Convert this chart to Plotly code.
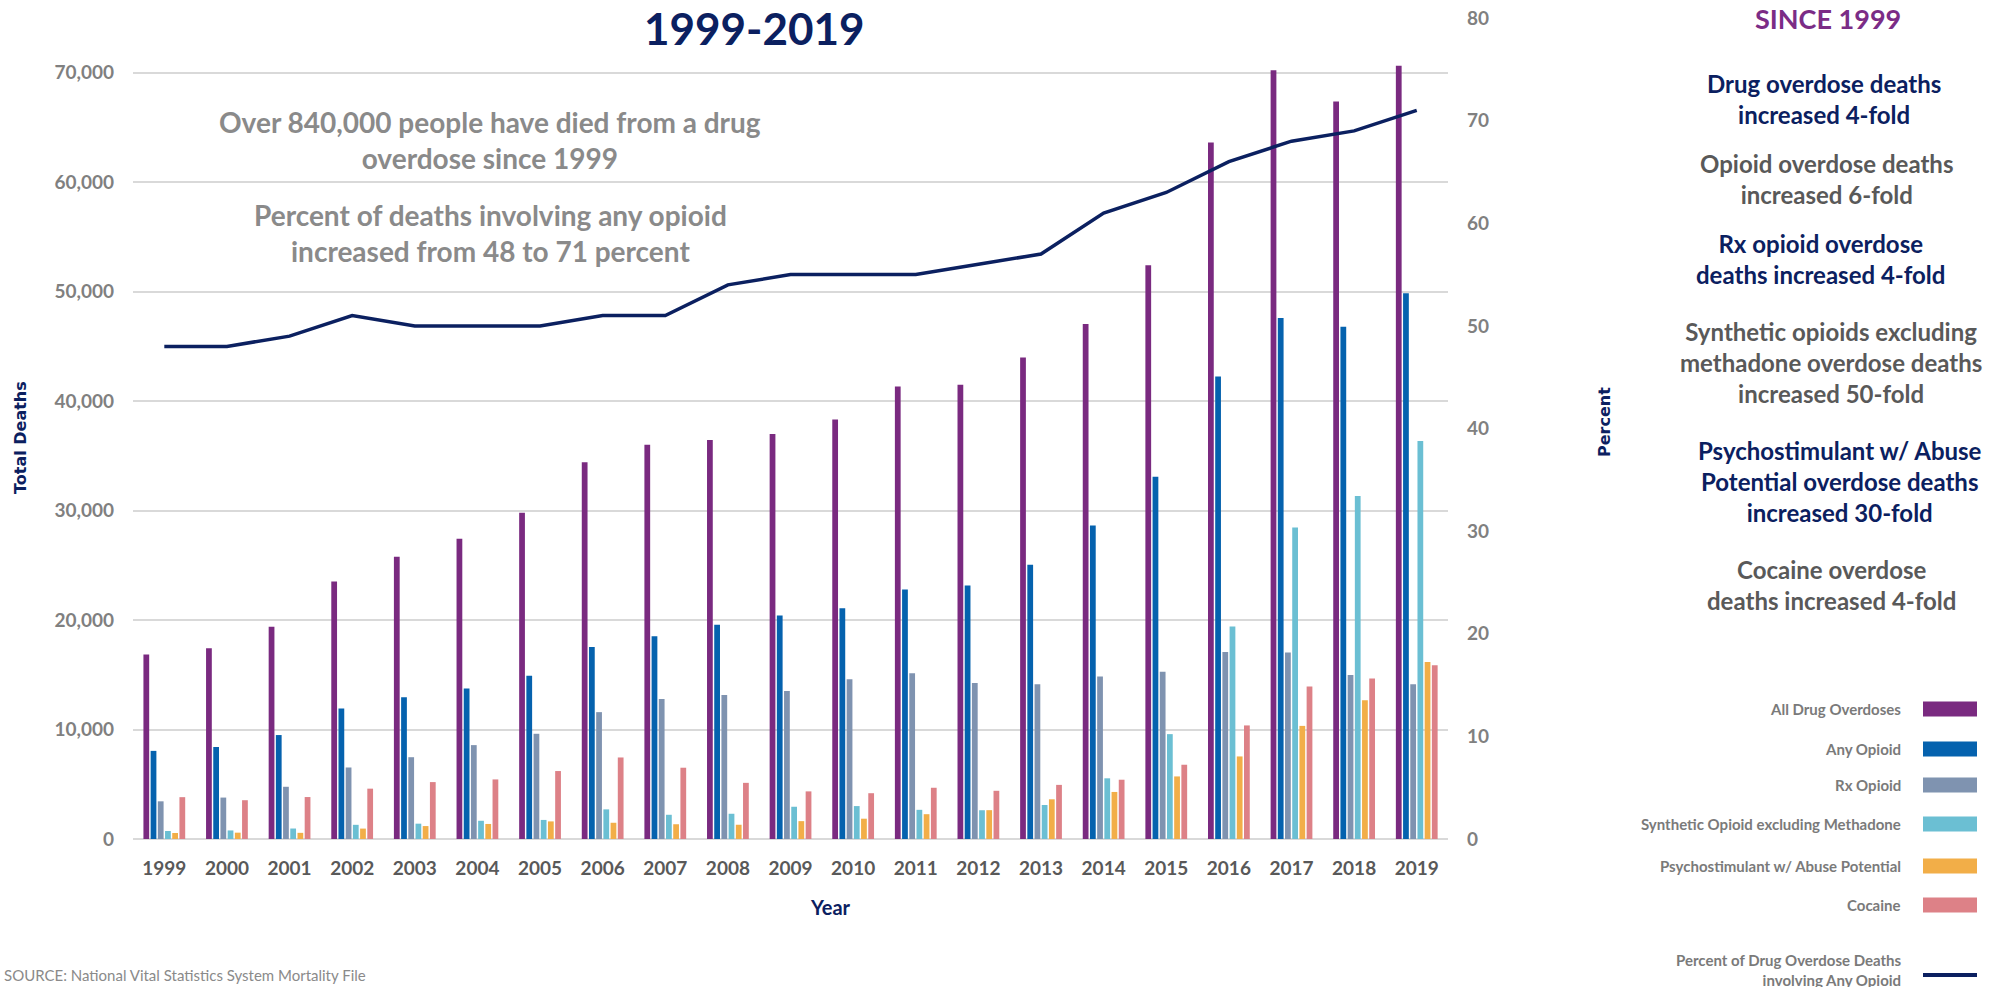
import plotly.graph_objects as go
from plotly.subplots import make_subplots

years = ["1999", "2000", "2001", "2002", "2003", "2004", "2005", "2006", "2007", "2008",
         "2009", "2010", "2011", "2012", "2013", "2014", "2015", "2016", "2017", "2018", "2019"]

all_drug = [16849, 17415, 19394, 23518, 25785, 27424, 29813, 34425, 36010, 36450,
            37004, 38329, 41340, 41502, 43982, 47055, 52404, 63632, 70237, 67367, 70630]
any_opioid = [8050, 8407, 9496, 11920, 12940, 13756, 14918, 17545, 18516, 19582,
              20422, 21089, 22784, 23166, 25052, 28647, 33091, 42249, 47600, 46802, 49860]
rx_opioid = [3442, 3785, 4770, 6533, 7473, 8577, 9612, 11589, 12796, 13149,
             13523, 14583, 15140, 14240, 14145, 14838, 15281, 17087, 17029, 14975, 14139]
synthetic = [730, 782, 957, 1295, 1400, 1664, 1742, 2707, 2213, 2306,
             2946, 3007, 2666, 2628, 3105, 5544, 9580, 19413, 28466, 31335, 36359]
psychostim = [547, 578, 563, 951, 1181, 1374, 1608, 1484, 1348, 1302,
              1632, 1854, 2266, 2635, 3627, 4298, 5716, 7542, 10333, 12676, 16167]
cocaine = [3822, 3544, 3833, 4599, 5199, 5443, 6208, 7448, 6512, 5129,
           4350, 4183, 4681, 4404, 4944, 5415, 6784, 10375, 13942, 14666, 15883]
pct_opioid = [48, 48, 49, 51, 50, 50, 50, 51, 51, 54, 55, 55, 55, 56, 57, 61, 63, 66, 68, 69, 71]

series_names = ["All Drug Overdoses", "Any Opioid", "Rx Opioid",
                "Synthetic Opioid excluding Methadone", "Psychostimulant w/ Abuse Potential", "Cocaine"]
series_values = [all_drug, any_opioid, rx_opioid, synthetic, psychostim, cocaine]
series_colors = ["#7a2a80", "#0562ae", "#7f93b0", "#6bbfd3", "#f2ae48", "#dd8187"]
line_name = "Percent of Drug Overdose Deaths<br>involving Any Opioid"

left_ticks = [0, 10000, 20000, 30000, 40000, 50000, 60000, 70000]
right_ticks = [0, 10, 20, 30, 40, 50, 60, 70, 80]

NAVY = "#0b2060"
FONT = "Lato"

W, H = 1998, 987
L, R, T, B = 133, 466, 18, 148
PW, PH = W - L - R, H - T - B


def px_x(px):
    return (px - L) / PW


def px_y(py):
    return (H - B - py) / PH


fig = make_subplots(specs=[[{"secondary_y": True}]])
for name, vals, color in zip(series_names, series_values, series_colors):
    fig.add_trace(go.Bar(x=years, y=vals, name=name, marker=dict(color=color, line=dict(width=0)),
                         showlegend=False), secondary_y=False)
fig.add_trace(go.Scatter(x=years, y=pct_opioid, mode="lines", name=line_name,
                         line=dict(color=NAVY, width=3.5), showlegend=False), secondary_y=True)

annotations = []
shapes = []


def add_text(text, x, y, size, color, family=FONT, weight="bold", xanchor="center", textangle=0):
    annotations.append(dict(text=text, x=px_x(x), y=px_y(y), xref="paper", yref="paper",
                            xanchor=xanchor, yanchor="middle", showarrow=False, textangle=textangle,
                            font=dict(family=family, size=size, color=color, weight=weight)))


# Title
add_text("1999-2019", 754, 28, 44, NAVY)

# White box behind the gray statement
shapes.append(dict(type="rect", xref="paper", yref="paper", x0=px_x(190), x1=px_x(790),
                   y0=px_y(285), y1=px_y(82), fillcolor="white", line=dict(width=0), layer="between"))
GRAY_T = "#8a8a8a"
add_text("Over 840,000 people have died from a drug<br>overdose since 1999", 490, 140, 28, GRAY_T)
add_text("Percent of deaths involving any opioid<br>increased from 48 to 71 percent", 490, 233, 28, GRAY_T)

# Right-side text block
PURPLE_T = "#7b2c86"
DGRAY = "#595959"
add_text("SINCE 1999", 1828, 18, 27, PURPLE_T)
right_blocks = [
    ("Drug overdose deaths<br>increased 4-fold", 99, NAVY, 1824),
    ("Opioid overdose deaths<br>increased 6-fold", 179, DGRAY, 1826),
    ("Rx opioid overdose<br>deaths increased 4-fold", 259, NAVY, 1820),
    ("Synthetic opioids excluding<br>methadone overdose deaths<br>increased 50-fold", 362, DGRAY, 1831),
    ("Psychostimulant w/ Abuse<br>Potential overdose deaths<br>increased 30-fold", 481, NAVY, 1840),
    ("Cocaine overdose<br>deaths increased 4-fold", 585, DGRAY, 1831),
]
for txt, yy, col, cx in right_blocks:
    add_text(txt, cx, yy, 24, col)

# Axis titles
add_text("Total Deaths", 20, 438, 16, NAVY, family="DejaVu Sans", textangle=-90)
add_text("Percent", 1604, 422, 16, NAVY, family="DejaVu Sans", textangle=-90)
add_text("Year", 830, 907, 20, NAVY)

# Custom legend (labels to the left of swatches)
LEG_GRAY = "#7a7a7a"
legend_y = [709, 749, 785, 824, 866, 905]
for name, color, yy in zip(series_names, series_colors, legend_y):
    add_text(name, 1903, yy, 15, LEG_GRAY, xanchor="right")
    shapes.append(dict(type="rect", xref="paper", yref="paper", x0=px_x(1923), x1=px_x(1977),
                       y0=px_y(yy + 7.5), y1=px_y(yy - 7.5), fillcolor=color, line=dict(width=0)))
annotations.append(dict(text=line_name, x=px_x(1903), y=px_y(970), xref="paper", yref="paper",
                        xanchor="right", yanchor="middle", align="right", showarrow=False,
                        font=dict(family=FONT, size=15, color=LEG_GRAY, weight="bold")))
shapes.append(dict(type="line", xref="paper", yref="paper", x0=px_x(1923), x1=px_x(1977),
                   y0=px_y(975), y1=px_y(975), line=dict(color=NAVY, width=4)))

# Source note
add_text("SOURCE: National Vital Statistics System Mortality File", 2, 975, 15, "#8a8a8a",
         weight="normal", xanchor="left")

fig.update_layout(
    width=W, height=H,
    margin=dict(l=L, r=R, t=T, b=B, autoexpand=False),
    paper_bgcolor="white", plot_bgcolor="white",
    barmode="group", bargap=0.31, bargroupgap=0.2,
    showlegend=False,
    annotations=annotations, shapes=shapes,
    font=dict(family=FONT),
)
fig.update_xaxes(type="category", showgrid=False, showline=False, ticks="",
                 tickfont=dict(family=FONT, size=19, color=DGRAY, weight="bold"),
                 ticklabelstandoff=16)
fig.update_yaxes(range=[0, 75000], tickvals=left_ticks, tickformat=",", showgrid=True,
                 gridcolor="#d9d9d9", gridwidth=2, zeroline=True, zerolinecolor="#d9d9d9",
                 zerolinewidth=2, showline=False, ticks="",
                 tickfont=dict(family=FONT, size=19, color="#808080", weight="bold"),
                 ticklabelstandoff=18, secondary_y=False)
fig.update_yaxes(range=[0, 80], tickvals=right_ticks, showgrid=False, zeroline=False, showline=False,
                 ticks="", tickfont=dict(family=FONT, size=19, color="#808080", weight="bold"),
                 ticklabelstandoff=18, secondary_y=True)

fig.write_html("out.html")
